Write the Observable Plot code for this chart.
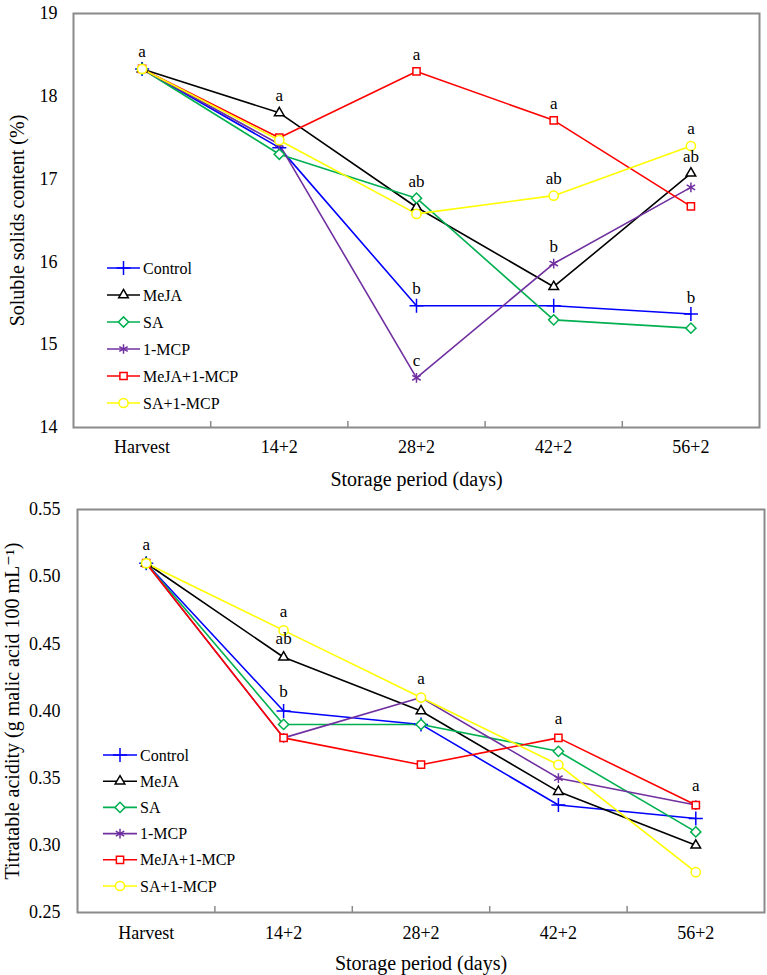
<!DOCTYPE html>
<html><head><meta charset="utf-8">
<script src="https://cdn.jsdelivr.net/npm/d3@7"></script>
<script src="https://cdn.jsdelivr.net/npm/@observablehq/plot@0.6"></script>
<style>
html,body{margin:0;padding:0;background:#fff;overflow:hidden}
#c svg{display:block}
#c svg, #c svg text{font-family:"Liberation Serif","Times New Roman","DejaVu Serif",serif !important}
</style>
</head><body><div id="c"></div>
<script>
// ---- data ----
const categories = ["Harvest", "14+2", "28+2", "42+2", "56+2"];
const seriesNames = ["Control", "MeJA", "SA", "1-MCP", "MeJA+1-MCP", "SA+1-MCP"];
const seriesColors = ["#0000ff", "#000000", "#00b050", "#7030a0", "#ff0000", "#ffff00"];

// Soluble solids content (%)
const sscControl   = [18.33, 17.38, 15.47, 15.47, 15.37];
const sscMeJA      = [18.33, 17.80, 16.66, 15.70, 17.07];
const sscSA        = [18.33, 17.30, 16.77, 15.30, 15.20];
const ssc1MCP      = [18.33, 17.42, 14.60, 15.98, 16.90];
const sscMeJA1MCP  = [18.33, 17.50, 18.30, 17.71, 16.67];
const sscSA1MCP    = [18.33, 17.47, 16.58, 16.80, 17.40];
const sscTicks = [14, 15, 16, 17, 18, 19];
const sscLetters = [
  ["Harvest", "SA+1-MCP", "a"],
  ["14+2", "MeJA", "a"],
  ["28+2", "MeJA+1-MCP", "a"], ["28+2", "SA", "ab"], ["28+2", "Control", "b"], ["28+2", "1-MCP", "c"],
  ["42+2", "MeJA+1-MCP", "a"], ["42+2", "SA+1-MCP", "ab"], ["42+2", "1-MCP", "b"],
  ["56+2", "SA+1-MCP", "a"], ["56+2", "MeJA", "ab"], ["56+2", "Control", "b"]
];

// Titratable acidity (g malic acid 100 mL-1)
const taControl  = [0.51, 0.40, 0.39, 0.33, 0.32];
const taMeJA     = [0.51, 0.44, 0.40, 0.34, 0.30];
const taSA       = [0.51, 0.39, 0.39, 0.37, 0.31];
const ta1MCP     = [0.51, 0.38, 0.41, 0.35, 0.33];
const taMeJA1MCP = [0.51, 0.38, 0.36, 0.38, 0.33];
const taSA1MCP   = [0.51, 0.46, 0.41, 0.36, 0.28];
const taTicks = [0.25, 0.30, 0.35, 0.40, 0.45, 0.50, 0.55];
const taLetters = [
  ["Harvest", "SA+1-MCP", "a"],
  ["14+2", "SA+1-MCP", "a"], ["14+2", "MeJA", "ab"], ["14+2", "Control", "b"],
  ["28+2", "SA+1-MCP", "a"],
  ["42+2", "MeJA+1-MCP", "a"],
  ["56+2", "MeJA+1-MCP", "a"]
];

const xTitle = "Storage period (days)";
const sscTitle = "Soluble solids content (%)";
const taTitle = "Titratable acidity (g malic acid 100 mL\u207B\u00B9)";

// ---- drawing ----
const seriesSymbols = [d3.symbolPlus, d3.symbolTriangle2, d3.symbolDiamond2, d3.symbolAsterisk, d3.symbolSquare2, d3.symbolCircle];
const FONT = "Liberation Serif, Times New Roman, DejaVu Serif, serif";
const R = 4.6;

function makeChart(cfg) {
  const n = categories.length;
  const rows = seriesNames.flatMap((s, k) => cfg.values[k].map((v, i) => ({i, cat: categories[i], series: s, value: v})));
  const lookup = new Map(rows.map(d => [d.cat + "|" + d.series, d]));
  const letterRows = cfg.letters.map(([cat, s, t]) => ({...lookup.get(cat + "|" + s), t}));
  const m = cfg.margin;
  const plot = Plot.plot({
    width: 767, height: cfg.height,
    marginTop: m.top, marginRight: m.right, marginBottom: m.bottom, marginLeft: m.left,
    style: {fontFamily: FONT, fontSize: "18px", color: "#000", background: "#fff", overflow: "visible"},
    x: {domain: [-0.5, n - 0.5]},
    y: {domain: cfg.yDomain},
    color: {domain: seriesNames, range: seriesColors},
    symbol: {domain: seriesNames, range: seriesSymbols},
    marks: [
      Plot.axisX(d3.range(1, n).map(i => i - 0.5), {label: null, tickSize: -6, tickFormat: () => "", stroke: "#8a8a8a", strokeWidth: 1.5}),
      Plot.axisX(d3.range(n), {label: null, tickSize: 0, tickPadding: cfg.xPad, tickFormat: i => categories[i], fontSize: 18}),
      Plot.axisY(cfg.ticks, {label: null, tickSize: 0, tickPadding: cfg.yPad, tickFormat: cfg.fmt, fontSize: 18}),
      Plot.line(rows, {x: "i", y: "value", z: "series", stroke: "series", strokeWidth: 1.6}),
      Plot.dot(rows, {x: "i", y: "value", symbol: "series", stroke: "series", fill: "white", r: R, strokeWidth: 1.5}),
      Plot.text(letterRows, {x: "i", y: "value", text: "t", dy: cfg.letterDy, fontSize: 17}),
      Plot.text([cfg.yTitle], {frameAnchor: "left", textAnchor: "middle", lineAnchor: "middle", dx: cfg.yTitleDx, rotate: -90, fontSize: 20}),
      Plot.text([xTitle], {frameAnchor: "bottom", textAnchor: "middle", lineAnchor: "middle", dy: cfg.xTitleDy, fontSize: 20}),
      Plot.frame({stroke: "#8a8a8a", strokeWidth: 2})
    ]
  });
  // legend inside the plot area (lower-left)
  const L = cfg.legend;
  const plotBottom = cfg.height - m.bottom;
  const g = d3.select(plot).append("g").attr("font-family", FONT).attr("font-size", 16).attr("text-anchor", "start");
  seriesNames.forEach((s, k) => {
    const y = plotBottom - L.gap - (seriesNames.length - 1 - k) * L.step;
    const row = g.append("g").attr("transform", `translate(0,${y})`);
    row.append("line").attr("x1", L.x0).attr("x2", L.x1).attr("y1", 0).attr("y2", 0)
      .attr("stroke", seriesColors[k]).attr("stroke-width", 1.6);
    row.append("path").attr("d", d3.symbol(seriesSymbols[k], R * R * Math.PI)())
      .attr("transform", `translate(${(L.x0 + L.x1) / 2},0)`)
      .attr("fill", "white").attr("stroke", seriesColors[k]).attr("stroke-width", 1.5);
    row.append("text").attr("x", L.tx).attr("y", 0).attr("dy", "0.35em").attr("fill", "#000")
      .attr("text-anchor", "start").text(s);
  });
  return plot;
}

const chartSSC = makeChart({
  values: [sscControl, sscMeJA, sscSA, ssc1MCP, sscMeJA1MCP, sscSA1MCP],
  letters: sscLetters, ticks: sscTicks, fmt: d3.format("d"), yDomain: [14, 19],
  height: 490, margin: {top: 13, right: 8, bottom: 63, left: 73},
  xPad: 13, yPad: 16, xTitleDy: 52, yTitle: sscTitle, yTitleDx: -56, letterDy: -17,
  legend: {x0: 107, x1: 140, tx: 143, gap: 24, step: 27}
});
const chartTA = makeChart({
  values: [taControl, taMeJA, taSA, ta1MCP, taMeJA1MCP, taSA1MCP],
  letters: taLetters, ticks: taTicks, fmt: d3.format(".2f"), yDomain: [0.25, 0.55],
  height: 485, margin: {top: 19, right: 3, bottom: 63, left: 77},
  xPad: 14, yPad: 17, xTitleDy: 51, yTitle: taTitle, yTitleDx: -65, letterDy: -19,
  legend: {x0: 103, x1: 137, tx: 140, gap: 26, step: 26.2}
});
document.getElementById("c").append(chartSSC, chartTA);
</script>
</body></html>
